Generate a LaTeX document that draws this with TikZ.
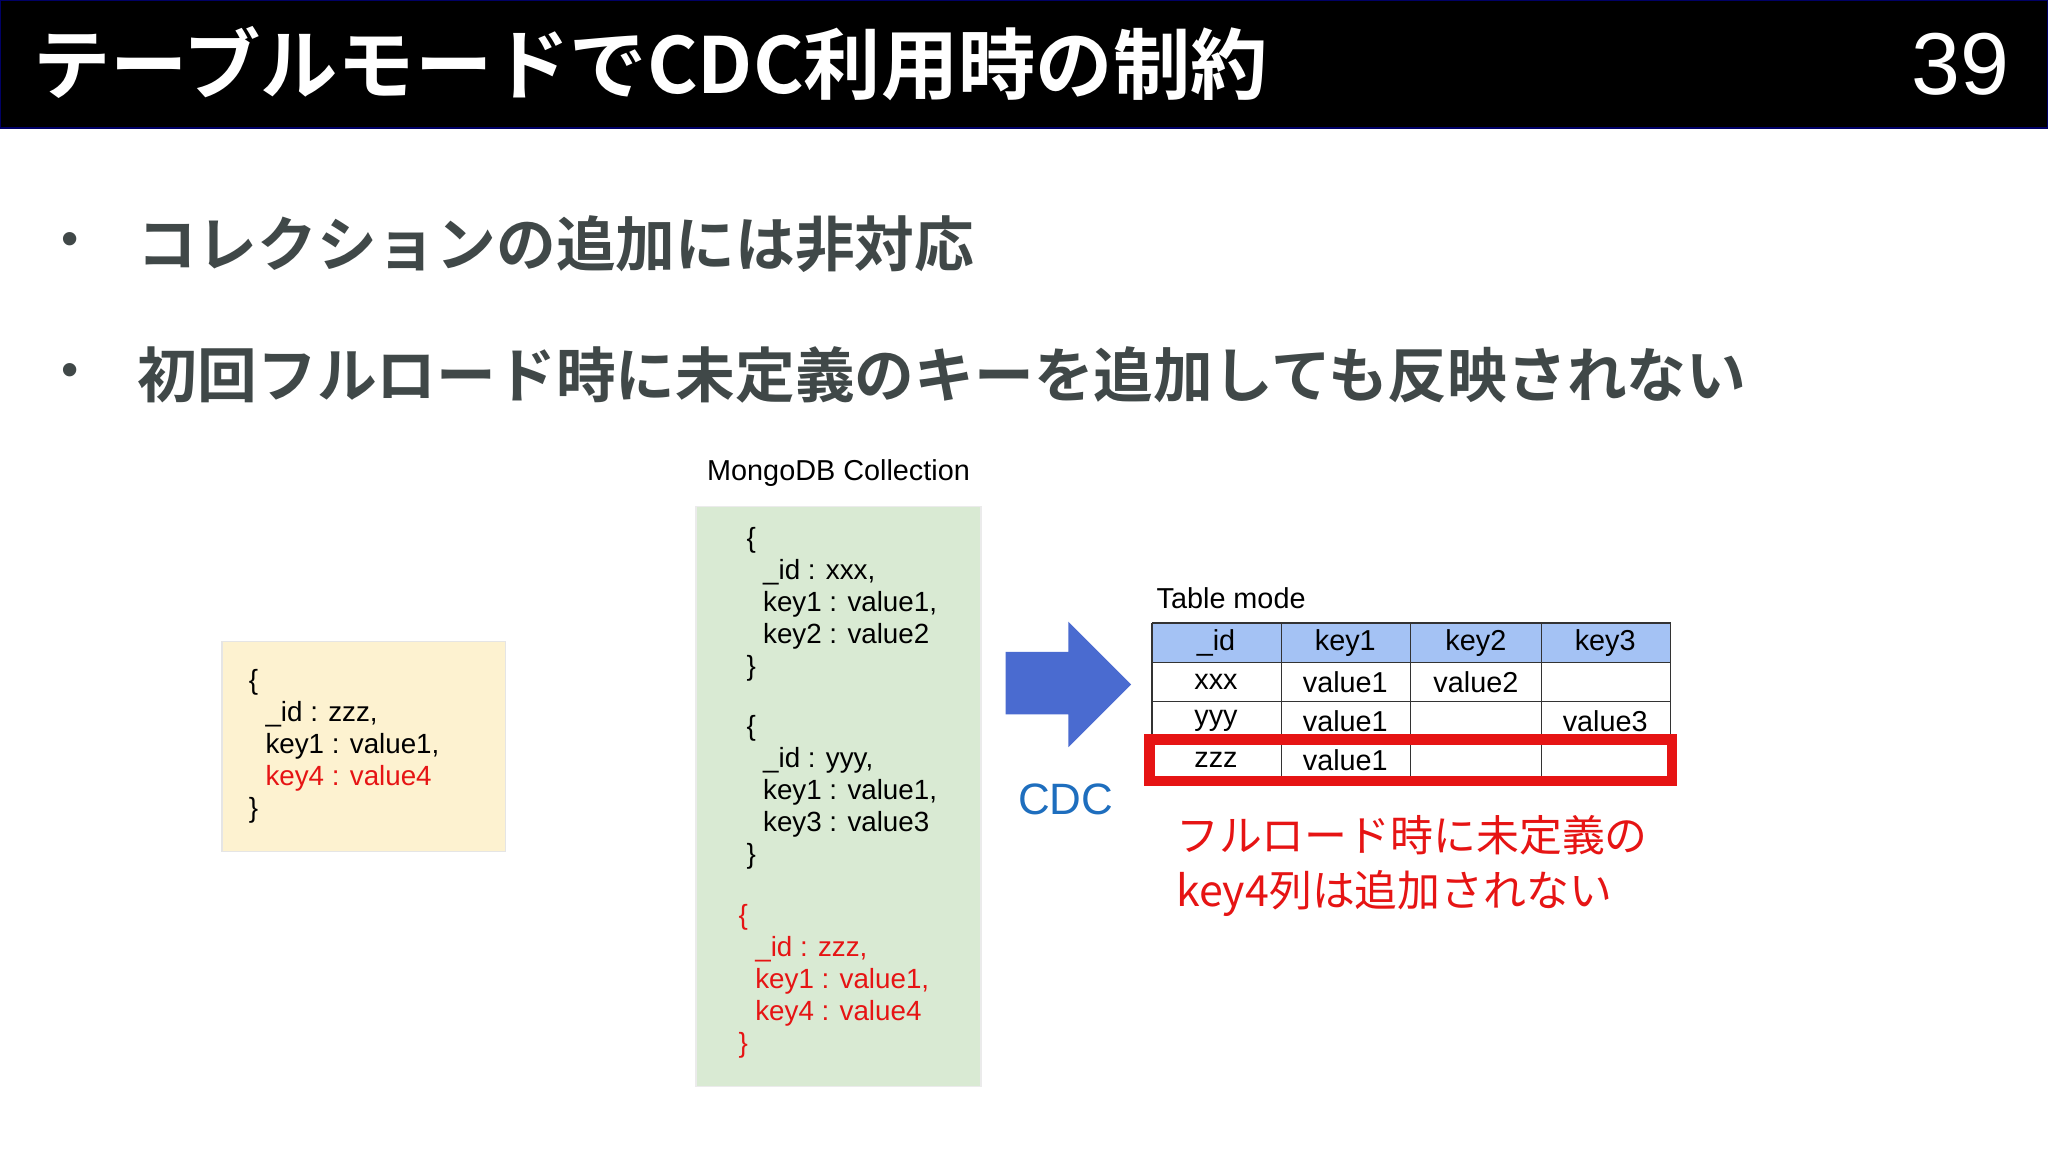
\documentclass[tikz,border=0pt]{standalone}
\usepackage{fontspec}
\setmainfont{Liberation Sans}
\newfontfamily\jp{Noto Sans CJK JP}
\newfontfamily\jpb{Noto Sans CJK JP Bold}
\definecolor{hdr}{RGB}{164,194,244}
\definecolor{arr}{RGB}{74,107,208}
\definecolor{cdcc}{RGB}{30,110,190}
\definecolor{ybox}{RGB}{253,242,208}
\definecolor{gbox}{RGB}{217,234,211}
\definecolor{gry}{RGB}{64,72,72}
\definecolor{rd}{RGB}{230,20,20}
\begin{document}
\begin{tikzpicture}[x=0.013061cm,y=-0.013061cm,
  code/.style={anchor=north west,align=left,inner sep=0,font=\fontsize{7.9}{9.1}\selectfont},
  cell/.style={font=\fontsize{8.2}{10}\selectfont},
  bul/.style={anchor=west,inner sep=0,text=gry,font=\jpb\fontsize{17}{18}\selectfont}]
\useasboundingbox (0,0) rectangle (1568,882);
\fill[white] (0,0) rectangle (1568,882);
\draw[fill=black,draw=blue!40!black] (0.5,0.5) rectangle (1567.5,98);
\node[anchor=west,text=white,font=\jpb\fontsize{22}{24}\selectfont] (title) at (16,49) {テーブルモードでCDC利用時の制約};
\node[anchor=east,text=white,font=\fontsize{25}{26}\selectfont] (pg) at (1548,49) {39};
\node[text=gry,font=\fontsize{14}{14}\selectfont] (b1) at (54,187) {•};
\node[bul] (t1) at (105,187) {コレクションの追加には非対応};
\node[text=gry,font=\fontsize{14}{14}\selectfont] (b2) at (54,287) {•};
\node[bul] (t2) at (105,287) {初回フルロード時に未定義のキーを追加しても反映されない};
% yellow
\fill[ybox,draw=black!10] (170,491) rectangle (387,652);
\node[code] (y) at (190,512) {\{\\\hspace{0.6em}\_id : zzz,\\\hspace{0.6em}key1 : value1,\\\hspace{0.6em}\textcolor{rd}{key4 : value4}\\\}};
% green
\node[font=\fontsize{8.2}{10}\selectfont] (mc) at (642,362) {MongoDB Collection};
\fill[gbox,draw=black!8] (533,388) rectangle (751,832);
\node[code] (g1) at (571,403) {\{\\\hspace{0.6em}\_id : xxx,\\\hspace{0.6em}key1 : value1,\\\hspace{0.6em}key2 : value2\\\}};
\node[code] (g2) at (571,547) {\{\\\hspace{0.6em}\_id : yyy,\\\hspace{0.6em}key1 : value1,\\\hspace{0.6em}key3 : value3\\\}};
\node[code,text=rd] (g3) at (565,692) {\{\\\hspace{0.6em}\_id : zzz,\\\hspace{0.6em}key1 : value1,\\\hspace{0.6em}key4 : value4\\\}};
% arrow
\fill[arr] (770,499)--(818,499)--(818,476)--(866,524)--(818,572)--(818,547)--(770,547)--cycle;
\node[text=cdcc,font=\fontsize{12.5}{14}\selectfont] (cdc) at (816,612) {CDC};
% table
\node[anchor=west,inner sep=0,font=\fontsize{8.2}{10}\selectfont] (tm) at (885,458) {Table mode};
\fill[hdr] (882,477) rectangle (1279,507);
\foreach \x in {882,981,1080,1180,1279} \draw[black!80] (\x,477)--(\x,597);
\foreach \y in {477,507,537,567,597} \draw[black!80] (882,\y)--(1279,\y);
\node[cell] at (931,492) {\_id}; \node[cell] at (1030,492) {key1}; \node[cell] at (1130,492) {key2}; \node[cell] at (1229,492) {key3};
\node[cell] at (931,522) {xxx}; \node[cell] at (1030,522) {value1}; \node[cell] at (1130,522) {value2};
\node[cell] at (931,552) {yyy}; \node[cell] at (1030,552) {value1}; \node[cell] at (1229,552) {value3};
\node[cell] at (931,582) {zzz}; \node[cell] at (1030,582) {value1};
\draw[rd,line width=3pt] (880,566) rectangle (1280,598);
\node[anchor=north west,align=left,inner sep=0,text=rd,font=\jp\fontsize{12.2}{15.5}\selectfont] (note) at (900,624) {フルロード時に未定義の\\key4列は追加されない};
\end{tikzpicture}
\end{document}
